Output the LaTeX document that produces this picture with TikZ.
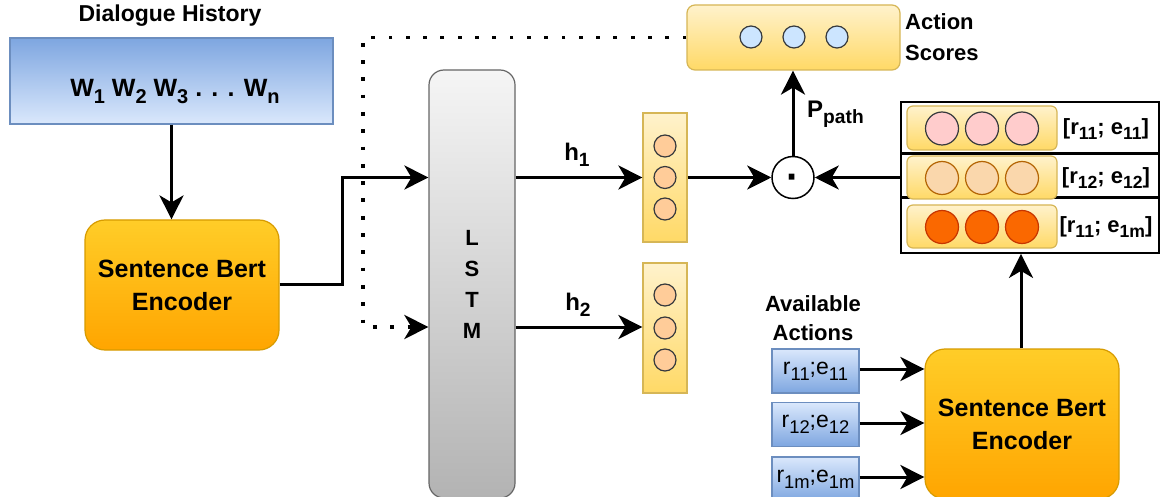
\documentclass[tikz,border=0pt]{standalone}
\usepackage{fontspec}
\setmainfont{Liberation Sans}
\usetikzlibrary{arrows.meta,calc}
\newcommand{\sbx}[1]{\raisebox{-0.25em}{\scalebox{0.8}{#1}}}
\definecolor{bluetop}{HTML}{7EA6E0}
\definecolor{bluebot}{HTML}{DAE8FC}
\definecolor{bluestroke}{HTML}{6C8EBF}
\definecolor{sbtop}{HTML}{FFCD28}
\definecolor{sbbot}{HTML}{FFA500}
\definecolor{sbstroke}{HTML}{D79B00}
\definecolor{greytop}{HTML}{F5F5F5}
\definecolor{greybot}{HTML}{B3B3B3}
\definecolor{greystroke}{HTML}{666666}
\definecolor{yeltop}{HTML}{FFF2CC}
\definecolor{yelbot}{HTML}{FFD966}
\definecolor{yelstroke}{HTML}{D6B656}
\definecolor{cblue}{HTML}{CCE5FF}
\definecolor{corange}{HTML}{FFCC99}
\definecolor{cdark}{HTML}{36393D}
\definecolor{cpink}{HTML}{FFCCCC}
\definecolor{cpeach}{HTML}{FAD7AC}
\definecolor{cpeachs}{HTML}{B46504}
\definecolor{cred}{HTML}{FA6800}
\definecolor{creds}{HTML}{C73500}
\tikzset{
  arr/.style={line width=3pt, -{Stealth[length=24pt,width=24pt,inset=7pt]}},
  dotarr/.style={line width=3.8pt, dash pattern=on 3.8pt off 13.5pt, -{Stealth[length=24pt,width=24pt,inset=7pt]}},
  sbbox/.style={draw=sbstroke, line width=1.2pt, rounded corners=20pt, top color=sbtop, bottom color=sbbot,
    minimum width=194pt, align=center, font=\fontsize{25}{33}\selectfont\bfseries},
  vecbox/.style={draw=yelstroke, line width=1.2pt, top color=yeltop, bottom color=yelbot},
  actbox/.style={draw=bluestroke, line width=1.2pt, top color=bluebot, bottom color=bluetop,
    minimum width=87pt, minimum height=44pt, inner sep=0pt, font=\fontsize{23}{27}\selectfont},
  cir/.style={circle, draw=cdark, line width=1.2pt, minimum size=22pt, inner sep=0pt},
  bigcir/.style={circle, line width=1.2pt, minimum size=33pt, inner sep=0pt},
  lbl/.style={font=\fontsize{24}{28}\selectfont\bfseries, inner sep=0pt},
}
\begin{document}
\begin{tikzpicture}[x=1pt,y=-1pt]
\useasboundingbox (0,0) rectangle (1160,497);
\clip (0,0) rectangle (1160,497);
\fill[white] (0,0) rectangle (1160,497);

% Dialogue history
\node[font=\fontsize{23}{27}\selectfont\bfseries] (dht) at (170,16) {Dialogue History};
\node[draw=bluestroke, line width=1.2pt, top color=bluetop, bottom color=bluebot,
  minimum width=323pt, minimum height=86pt, inner sep=0pt] (dh) at (171.5,81) {};
\node[font=\fontsize{25}{30}\selectfont\bfseries, anchor=base] (dhw) at (175,97)
  {W\sbx{1} W\sbx{2} W\sbx{3} . . . W\sbx{n}};

% Sentence Bert encoder 1
\node[sbbox, minimum height=130pt] (sb1) at (182,285) {Sentence Bert\\Encoder};

% LSTM
\node[draw=greystroke, line width=1.2pt, rounded corners=15pt, top color=greytop, bottom color=greybot,
  minimum width=86pt, minimum height=428pt, inner sep=0pt, align=center,
  font=\fontsize{22}{31}\selectfont\bfseries] (lstm) at (472,284) {L\\S\\T\\M};

% Action scores
\node[vecbox, rounded corners=8pt, minimum width=213pt, minimum height=65pt] (asb) at (793.5,37.5) {};
\node[cir, fill=cblue] (as1) at (751,37) {};
\node[cir, fill=cblue] (as2) at (794,37) {};
\node[cir, fill=cblue] (as3) at (837,37) {};
\node[font=\fontsize{22}{31}\selectfont\bfseries, align=left, anchor=west, inner sep=0pt] (ast) at (905,37) {Action\\Scores};

% h vectors
\node[vecbox, minimum width=44pt, minimum height=129pt] (hb1) at (665,177.5) {};
\node[cir, fill=corange] (h1a) at (665,146) {};
\node[cir, fill=corange] (h1b) at (665,177.5) {};
\node[cir, fill=corange] (h1c) at (665,209) {};
\node[vecbox, minimum width=44pt, minimum height=130pt] (hb2) at (665,328) {};
\node[cir, fill=corange] (h2a) at (665,295) {};
\node[cir, fill=corange] (h2b) at (665,328) {};
\node[cir, fill=corange] (h2c) at (665,360) {};

% dot product
\node[circle, draw=black, line width=1.5pt, minimum size=42pt, inner sep=0pt] (dot) at (793,177.5) {};
\node[anchor=base, inner sep=0pt, font=\fontsize{40}{40}\selectfont\bfseries] (dott) at ([yshift=-13pt]dot.center) {·};

% stacked candidates
\node[draw=black, line width=1.8pt, minimum width=258pt, minimum height=151pt, inner sep=0pt] (stk) at (1030,177.5) {};
\draw[line width=3pt] (stk.west |- 0,154) -- (stk.east |- 0,154);
\draw[line width=3pt] (stk.west |- 0,198) -- (stk.east |- 0,198);
\node[vecbox, rounded corners=6pt, minimum width=150pt, minimum height=44pt] (r1) at (982,128) {};
\node[vecbox, rounded corners=6pt, minimum width=150pt, minimum height=43pt] (r2) at (982,177.5) {};
\node[vecbox, rounded corners=6pt, minimum width=150pt, minimum height=43pt] (r3) at (982,226.5) {};
\node[bigcir, draw=cdark, fill=cpink] (r1a) at (942,128.5) {};
\node[bigcir, draw=cdark, fill=cpink] (r1b) at (982,128.5) {};
\node[bigcir, draw=cdark, fill=cpink] (r1c) at (1022,128.5) {};
\node[bigcir, draw=cpeachs, fill=cpeach] (r2a) at (942,178) {};
\node[bigcir, draw=cpeachs, fill=cpeach] (r2b) at (982,178) {};
\node[bigcir, draw=cpeachs, fill=cpeach] (r2c) at (1022,178) {};
\node[bigcir, draw=creds, fill=cred] (r3a) at (942,227) {};
\node[bigcir, draw=creds, fill=cred] (r3b) at (982,227) {};
\node[bigcir, draw=creds, fill=cred] (r3c) at (1022,227) {};
\node[font=\fontsize{22}{26}\selectfont\bfseries, inner sep=0pt] (l1) at (1106,129) {[r\sbx{11}; e\sbx{11}]};
\node[font=\fontsize{22}{26}\selectfont\bfseries, inner sep=0pt] (l2) at (1106,178) {[r\sbx{12}; e\sbx{12}]};
\node[font=\fontsize{22}{26}\selectfont\bfseries, inner sep=0pt] (l3) at (1106,227) {[r\sbx{11}; e\sbx{1m}]};

% available actions
\node[font=\fontsize{22}{29}\selectfont\bfseries, align=center, inner sep=0pt] (avt) at (813,318) {Available\\Actions};
\node[actbox] (a1) at (815.5,371) {r\sbx{11};e\sbx{11}};
\node[actbox] (a2) at (815.5,424.5) {r\sbx{12};e\sbx{12}};
\node[actbox] (a3) at (815.5,479) {r\sbx{1m};e\sbx{1m}};

% Sentence Bert encoder 2
\node[sbbox, minimum height=150pt] (sb2) at (1022,424) {Sentence Bert\\Encoder};

% connectors
\coordinate (j1) at (342,0);
\coordinate (j2) at (363,327);
\draw[arr] (dh.south) -- (dh.south |- sb1.north);
\draw[arr] (sb1.east) -- (sb1.east -| j1) |- (lstm.west |- hb1);
\draw[dotarr] (asb.west) -| (j2) -- (j2 -| lstm.west);
\draw[arr] (lstm.east |- hb1) -- (hb1.west);
\draw[arr] (lstm.east |- j2) -- (hb2.west |- j2);
\node[lbl] (h1l) at (577,155) {h\sbx{1}};
\node[lbl] (h2l) at (578,305) {h\sbx{2}};
\draw[arr] (hb1.east) -- (dot.west);
\draw[arr] (stk.west) -- (dot.east);
\draw[arr] (dot.north) -- (asb.south -| dot);
\node[lbl, anchor=base west] (pl) at (807,118) {P\sbx{path}};
\draw[arr] (sb2.north -| 1021,0) -- (stk.south -| 1021,0);
\draw[arr] (a1.east |- 0,369) -- (sb2.west |- 0,369);
\draw[arr] (a2.east |- 0,423) -- (sb2.west |- 0,423);
\draw[arr] (a3.east |- 0,477) -- (sb2.west |- 0,477);
\end{tikzpicture}
\end{document}
